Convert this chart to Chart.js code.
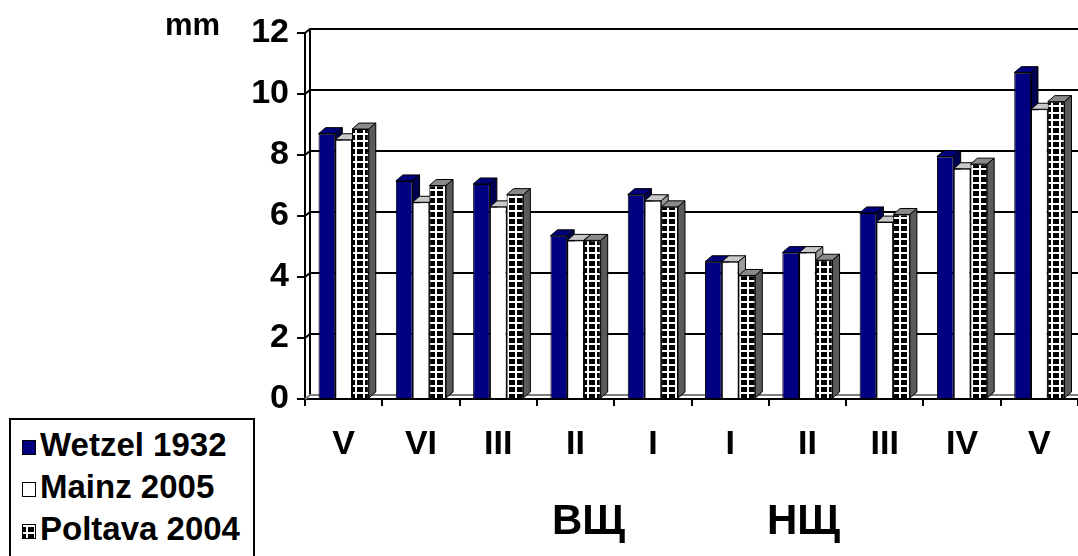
<!DOCTYPE html>
<html>
<head>
<meta charset="utf-8">
<script src="https://cdn.jsdelivr.net/npm/chart.js@4.4.0/dist/chart.umd.min.js"></script>
<style>
body{margin:0;background:#fff;width:1078px;height:556px;overflow:hidden;position:relative;font-family:Arial,"Liberation Sans",sans-serif;font-weight:bold}
#wrap{position:absolute;left:0;top:0;width:1078px;height:556px}
.lbl{position:absolute;line-height:1;white-space:nowrap;color:#000}
#legend{position:absolute;left:9px;top:418px;width:242px;height:150px;border:2px solid #000;background:#fff}
.row{position:absolute;left:0;font-size:33px;line-height:1}
.sw{position:absolute;left:11px;width:12px;height:13px;border:1px solid #000}
.row span{position:absolute;left:29px;top:0;white-space:nowrap}
</style>
</head>
<body>
<div id="wrap"><canvas id="chart" width="1078" height="556"></canvas></div>
<div class="lbl" style="left:165px;top:9px;font-size:31px">mm</div>
<div class="lbl" style="left:552px;top:499px;font-size:42px">ВЩ</div>
<div class="lbl" style="left:767px;top:499px;font-size:42px">НЩ</div>
<div id="legend"></div>
<script>
// values
const categories = ['V', 'VI', 'III', 'II', 'I', 'I', 'II', 'III', 'IV', 'V'];
const seriesNames = ['Wetzel 1932', 'Mainz 2005', 'Poltava 2004'];
const wetzel = [8.7, 7.15, 7.05, 5.35, 6.7, 4.5, 4.8, 6.1, 7.95, 10.7];
const mainz = [8.5, 6.45, 6.3, 5.2, 6.5, 4.5, 4.8, 5.8, 7.55, 9.5];
const poltava = [8.85, 7.0, 6.7, 5.2, 6.3, 4.05, 4.55, 6.05, 7.7, 9.75];
const yMax = 12;
const yStep = 2;

const canvas = document.getElementById('chart');
const ctx = canvas.getContext('2d');

// black squares with white lines, like the Excel fill
function gridTile(){
  const c = document.createElement('canvas');
  c.width = 8; c.height = 7;
  const g = c.getContext('2d');
  g.fillStyle = '#000'; g.fillRect(0, 0, 8, 7);
  g.fillStyle = '#fff';
  g.fillRect(0, 0, 8, 2);
  g.fillRect(3, 0, 2, 7);
  return c;
}
const tile = gridTile();
const gridPattern = ctx.createPattern(tile, 'repeat');

const faceColors = [
  {top: '#00007a', side: '#000050'},
  {top: '#c8c8c8', side: '#9a9a9a'},
  {top: '#8a8a8a', side: '#5a5a5a'}
];

const DX = 7, DY = -6;   // bar depth
const WX = 5, WY = -4;   // wall depth

const threeD = {
  id: 'threeD',
  beforeDatasetsDraw(chart){
    const c = chart.ctx;
    const a = chart.chartArea;
    const ys = chart.scales.y;
    c.save();
    c.lineWidth = 2;
    c.strokeStyle = '#000';
    // back wall + gridlines
    c.beginPath();
    c.moveTo(a.left + WX, ys.getPixelForValue(yMax) + WY);
    c.lineTo(a.left + WX, a.bottom + WY);
    for(let v = yStep; v <= yMax; v += yStep){
      const y = ys.getPixelForValue(v);
      c.moveTo(a.left, y);
      c.lineTo(a.left + WX, y + WY);
      c.lineTo(a.right, y + WY);
    }
    c.stroke();
    // floor
    c.strokeStyle = '#808080';
    c.beginPath();
    c.moveTo(a.left, a.bottom);
    c.lineTo(a.left + WX, a.bottom + WY);
    c.lineTo(a.right, a.bottom + WY);
    c.stroke();
    // top and side faces of bars, behind the fronts
    c.lineWidth = 1;
    c.strokeStyle = '#000';
    chart.data.datasets.forEach((ds, di) => {
      const meta = chart.getDatasetMeta(di);
      meta.data.forEach(el => {
        const p = el.getProps(['x', 'y', 'base', 'width'], true);
        const x0 = p.x - p.width / 2, x1 = p.x + p.width / 2;
        c.fillStyle = faceColors[di].top;
        c.beginPath();
        c.moveTo(x0, p.y); c.lineTo(x1, p.y);
        c.lineTo(x1 + DX, p.y + DY); c.lineTo(x0 + DX, p.y + DY);
        c.closePath(); c.fill(); c.stroke();
        c.fillStyle = faceColors[di].side;
        c.beginPath();
        c.moveTo(x1, p.y); c.lineTo(x1 + DX, p.y + DY);
        c.lineTo(x1 + DX, p.base + DY); c.lineTo(x1, p.base);
        c.closePath(); c.fill(); c.stroke();
      });
    });
    c.restore();
  }
};

const tickFont = {family: 'Arial, "Liberation Sans", sans-serif', size: 34, weight: 'bold'};

new Chart(ctx, {
  type: 'bar',
  data: {
    labels: categories,
    datasets: [
      {label: seriesNames[0], data: wetzel, backgroundColor: '#000080', borderColor: '#000', borderWidth: 1},
      {label: seriesNames[1], data: mainz, backgroundColor: '#ffffff', borderColor: '#000', borderWidth: 1},
      {label: seriesNames[2], data: poltava, backgroundColor: gridPattern, borderColor: '#000', borderWidth: 1}
    ]
  },
  options: {
    responsive: false,
    animation: false,
    events: [],
    layout: {padding: {top: 33, right: 0, bottom: 0, left: 0}},
    datasets: {bar: {categoryPercentage: 0.65, barPercentage: 1.0}},
    plugins: {legend: {display: false}, tooltip: {enabled: false}},
    scales: {
      x: {
        grid: {display: true, drawOnChartArea: false, drawTicks: true, tickLength: 7, color: '#000', lineWidth: 2, offset: true},
        border: {display: true, color: '#000', width: 2},
        ticks: {color: '#000', font: tickFont, padding: 18, maxRotation: 0, autoSkip: false},
        afterFit(s){ s.height = 157; }
      },
      y: {
        min: 0, max: yMax,
        grid: {display: true, drawOnChartArea: false, drawTicks: true, tickLength: 8, color: '#000', lineWidth: 2},
        border: {display: true, color: '#000', width: 2},
        ticks: {stepSize: yStep, color: '#000', font: tickFont, padding: 8},
        afterFit(s){ s.width = 305; }
      }
    }
  },
  plugins: [threeD]
});

// legend box
const legend = document.getElementById('legend');
const swatchFills = ['#000080', '#ffffff', null];
const rowTops = [8, 50, 92];
seriesNames.forEach((name, i) => {
  const row = document.createElement('div');
  row.className = 'row';
  row.style.top = rowTops[i] + 'px';
  let sw;
  if(swatchFills[i]){
    sw = document.createElement('div');
    sw.style.background = swatchFills[i];
  } else {
    sw = document.createElement('canvas');
    sw.width = 12; sw.height = 13;
    const g = sw.getContext('2d');
    g.fillStyle = g.createPattern(tile, 'repeat');
    g.fillRect(0, 0, 12, 13);
  }
  sw.className = 'sw';
  sw.style.top = '12px';
  const t = document.createElement('span');
  t.textContent = name;
  row.appendChild(sw);
  row.appendChild(t);
  legend.appendChild(row);
});
</script>
</body>
</html>
